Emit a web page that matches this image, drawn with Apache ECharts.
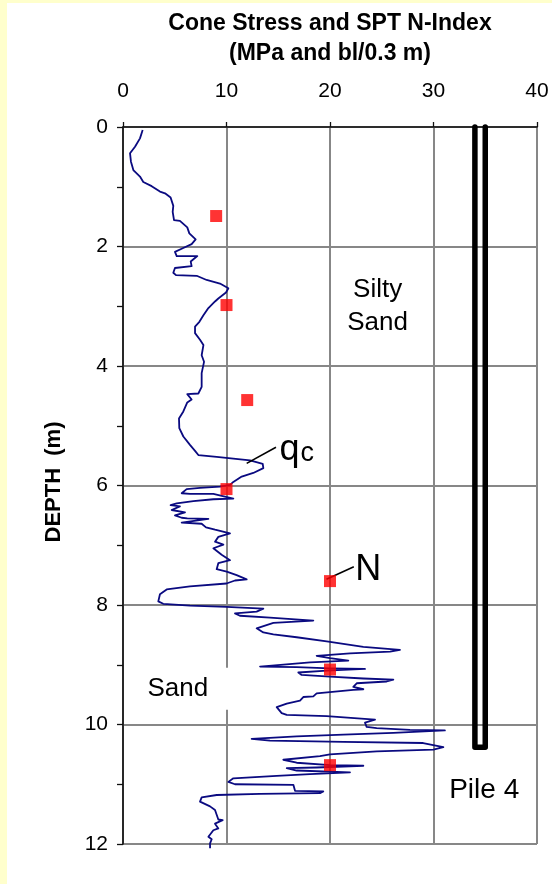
<!DOCTYPE html>
<html>
<head>
<meta charset="utf-8">
<script src="https://cdn.jsdelivr.net/npm/echarts@6/dist/echarts.min.js"></script>
<style>
  html, body { margin: 0; padding: 0; background: #fff; }
  #chart { width: 552px; height: 884px; }
</style>
</head>
<body>
<div id="chart"></div>
<script>
const FONT = '"Liberation Sans", Arial, Helvetica, sans-serif';

// Cone stress profile q_c (MPa) and the depth of each reading (m)
const qcValues = [
  1.9, 1.64, 1.16, 0.68, 0.77, 1.0, 1.64, 1.96, 2.77, 3.57, 4.06, 4.6, 4.86, 4.8, 4.93, 5.5,
  6.21, 6.41, 7.02, 6.63, 5.77, 5.02, 5.19, 7.18, 6.54, 6.63, 5.02, 4.86, 5.12, 7.12, 8.08,
  9.37, 10.18, 9.95, 9.21, 8.89, 8.25, 7.77, 7.38, 6.96, 6.96, 7.44, 7.77, 7.6, 7.83, 7.6,
  7.6, 7.28, 6.21, 6.63, 6.21, 5.83, 5.41, 5.44, 5.83, 6.47, 6.96, 7.28, 9.05, 10.66, 12.27,
  13.5, 13.56, 12.59, 11.47, 10.66, 10.34, 9.37, 7.44, 6.15, 5.67, 6.47, 8.73, 10.66, 8.73,
  6.8, 5.19, 4.6, 5.5, 4.7, 5.99, 5.02, 5.67, 6.21, 8.25, 5.67, 7.6, 8.02, 8.89, 10.34,
  9.21, 8.89, 9.7, 8.73, 9.53, 10.34, 9.21, 9.05, 10.02, 10.98, 11.95, 10.82, 10.0, 6.47,
  4.22, 3.57, 3.41, 3.89, 6.47, 10.0, 13.56, 12.91, 10.82, 11.3, 14.2, 18.39, 14.53, 12.91,
  13.56, 14.53, 16.78, 19.68, 23.22, 26.76, 25.8, 21.93, 18.71, 20.0, 21.77, 18.07, 13.24,
  16.78, 20.0, 23.38, 19.68, 16.94, 17.26, 20.0, 23.22, 26.12, 25.48, 22.58, 22.25, 23.22,
  22.25, 18.71, 18.39, 17.42, 17.1, 15.82, 14.85, 15.33, 15.82, 19.68, 24.35, 23.38, 23.54,
  24.51, 27.73, 31.1, 26.12, 21.29, 16.78, 12.43, 14.2, 21.29, 29.0, 30.95, 29.99, 24.51,
  20.0, 19.03, 15.49, 16.78, 20.0, 23.22, 18.71, 15.82, 16.78, 21.93, 18.07, 14.85, 10.66,
  10.18, 10.82, 16.46, 16.62, 19.35, 19.03, 13.24, 9.05, 7.6, 7.44, 8.41, 8.89, 9.21, 9.63,
  8.89, 9.21, 8.73, 8.25, 8.57, 8.41, 8.41
];
const qcDepths = [
  0.05, 0.19, 0.33, 0.44, 0.58, 0.72, 0.83, 0.92, 0.99, 1.08, 1.11, 1.18, 1.32, 1.42, 1.56, 1.57,
  1.68, 1.78, 1.88, 1.96, 2.03, 2.09, 2.16, 2.16, 2.25, 2.33, 2.36, 2.44, 2.48, 2.49, 2.56,
  2.62, 2.70, 2.77, 2.87, 2.92, 3.03, 3.15, 3.26, 3.34, 3.45, 3.56, 3.65, 3.82, 3.93, 4.12,
  4.35, 4.46, 4.47, 4.56, 4.61, 4.76, 4.88, 5.04, 5.18, 5.32, 5.42, 5.49, 5.52, 5.55, 5.58,
  5.64, 5.71, 5.79, 5.85, 5.94, 5.99, 6.02, 6.04, 6.06, 6.13, 6.14, 6.14, 6.22, 6.23,
  6.26, 6.30, 6.33, 6.35, 6.41, 6.45, 6.50, 6.54, 6.55, 6.56, 6.62, 6.64, 6.70, 6.74, 6.80,
  6.86, 6.94, 6.99, 7.05, 7.16, 7.25, 7.30, 7.40, 7.44, 7.50, 7.57, 7.59, 7.64, 7.69,
  7.74, 7.82, 7.94, 7.98, 8.01, 8.03, 8.06, 8.11, 8.14, 8.18, 8.21, 8.26, 8.30, 8.39,
  8.46, 8.49, 8.54, 8.61, 8.70, 8.75, 8.78, 8.81, 8.85, 8.89, 8.93, 8.96, 9.03,
  9.04, 9.06, 9.07, 9.10, 9.13, 9.17, 9.20, 9.23, 9.25, 9.28, 9.31, 9.37, 9.41,
  9.42, 9.48, 9.53, 9.54, 9.60, 9.65, 9.71, 9.81, 9.84, 9.86, 9.92, 9.97, 10.04,
  10.06, 10.09, 10.10, 10.14, 10.17, 10.20, 10.24, 10.27, 10.29, 10.31, 10.38, 10.42, 10.45,
  10.50, 10.53, 10.59, 10.64, 10.68, 10.69, 10.72, 10.73, 10.77, 10.80, 10.83, 10.86, 10.90,
  10.96, 11.00, 11.01, 11.11, 11.12, 11.15, 11.16, 11.18, 11.22, 11.29, 11.37, 11.43, 11.59, 11.60,
  11.66, 11.74, 11.77, 11.88, 11.92, 11.99, 12.07
];

// SPT N-index (blows per 0.3 m) and test depths (m)
const nValues = [9, 10, 12, 10, 20, 20, 20];
const nDepths = [1.49, 2.98, 4.57, 6.06, 7.60, 9.08, 10.68];

// Pile 4 outline: down one face, across the toe, back up
const pileX = [34, 34, 35, 35];
const pileDepth = [0, 10.38, 10.38, 0];

// Leader lines from the curve labels to their marks
const qcLeaderX = [11.95, 14.78];
const qcLeaderDepth = [5.63, 5.36];
const nLeaderX = [19.66, 22.3];
const nLeaderDepth = [7.57, 7.36];

// Axis ranges and tick steps
const xTickLabels = [0, 10, 20, 30, 40];
const depthTickLabels = [0, 2, 4, 6, 8, 10, 12];

// Title and annotation texts
const titleLines = ['Cone Stress and SPT N-Index', '(MPa and bl/0.3 m)'];
const depthAxisTitle = 'DEPTH  (m)';

const pairs = (xs, ys) => xs.map((x, i) => [x, ys[i]]);

const chart = echarts.init(document.getElementById('chart'), null, { renderer: 'canvas' });

const gridLine = { color: '#878787', width: 2 };

chart.setOption({
  animation: false,
  backgroundColor: '#ffffff',
  grid: { left: 123, top: 127, right: 15, bottom: 40, containLabel: false },
  xAxis: {
    type: 'value',
    position: 'top',
    min: xTickLabels[0],
    max: xTickLabels[xTickLabels.length - 1],
    interval: xTickLabels[1] - xTickLabels[0],
    axisLine: { show: true, onZero: false, lineStyle: { color: '#111', width: 1.6 } },
    axisTick: { show: true, length: 5, lineStyle: { color: '#111', width: 1.3 } },
    axisLabel: { color: '#000', fontFamily: FONT, fontSize: 21, margin: 25 },
    splitLine: { show: true, lineStyle: gridLine }
  },
  yAxis: {
    type: 'value',
    inverse: true,
    min: depthTickLabels[0],
    max: depthTickLabels[depthTickLabels.length - 1],
    interval: depthTickLabels[1] - depthTickLabels[0],
    axisLine: { show: true, onZero: false, lineStyle: { color: '#111', width: 1.6 } },
    axisTick: { show: true, length: 6, lineStyle: { color: '#111', width: 1.3 } },
    minorTick: { show: true, splitNumber: 2, length: 6, lineStyle: { color: '#111', width: 1.3 } },
    axisLabel: { color: '#000', fontFamily: FONT, fontSize: 21, margin: 15 },
    splitLine: { show: true, lineStyle: gridLine }
  },
  series: [
    {
      name: 'Pile 4',
      type: 'line',
      data: pairs(pileX, pileDepth),
      symbol: 'none',
      clip: false,
      lineStyle: { color: '#000', width: 5.5, cap: 'round', join: 'round' },
      z: 3
    },
    {
      name: 'qc',
      type: 'line',
      data: pairs(qcValues, qcDepths),
      symbol: 'none',
      clip: false,
      lineStyle: { color: '#0a0a80', width: 1.8, join: 'round' },
      z: 4
    },
    {
      name: 'qc leader',
      type: 'line',
      data: pairs(qcLeaderX, qcLeaderDepth),
      symbol: 'none',
      lineStyle: { color: '#000', width: 1.6 },
      z: 4
    },
    {
      name: 'N leader',
      type: 'line',
      data: pairs(nLeaderX, nLeaderDepth),
      symbol: 'none',
      lineStyle: { color: '#000', width: 1.6 },
      z: 4
    },
    {
      name: 'N',
      type: 'scatter',
      data: pairs(nValues, nDepths),
      symbol: 'rect',
      symbolSize: 12,
      itemStyle: { color: '#ff0000' },
      z: 5
    }
  ]
});

// Place a text centred on a point given in data units
const at = (x, d) => chart.convertToPixel({ gridIndex: 0 }, [x, d]);

const textEl = (pos, text, style, extra) => Object.assign({
  type: 'text',
  x: pos[0],
  y: pos[1],
  z: 100,
  style: Object.assign({
    text: text,
    fill: '#000',
    font: '26px ' + FONT,
    align: 'center',
    verticalAlign: 'middle'
  }, style)
}, extra || {});

const qPos = at(16.1, 5.40);
const cPos = at(17.8, 5.47);

chart.setOption({
  graphic: [
    { type: 'rect', z: 100, shape: { x: 0, y: 0, width: 7, height: 884 }, style: { fill: '#ffffcc' } },
    { type: 'rect', z: 100, shape: { x: 0, y: 0, width: 552, height: 3 }, style: { fill: '#ffffcc' } },
    textEl([330, 24], titleLines[0], { font: 'bold 23px ' + FONT }),
    textEl([330, 54], titleLines[1], { font: 'bold 23px ' + FONT }),
    textEl([54, 482], depthAxisTitle, { font: 'bold 22px ' + FONT }, { rotation: Math.PI / 2 }),
    textEl(at(24.6, 3.0), 'Silty\nSand', { font: '26px ' + FONT, lineHeight: 33 }),
    textEl(at(5.3, 9.4), 'Sand', {
      font: '26px ' + FONT,
      backgroundColor: '#ffffff',
      padding: [8, 20, 8, 20]
    }),
    textEl(at(34.9, 11.1), 'Pile 4', { font: '28px ' + FONT }),
    textEl(qPos, 'q', { font: '36px ' + FONT }),
    textEl(cPos, 'c', { font: '27px ' + FONT }),
    textEl(at(23.7, 7.41), 'N', { font: '36px ' + FONT })
  ]
});
</script>
</body>
</html>
